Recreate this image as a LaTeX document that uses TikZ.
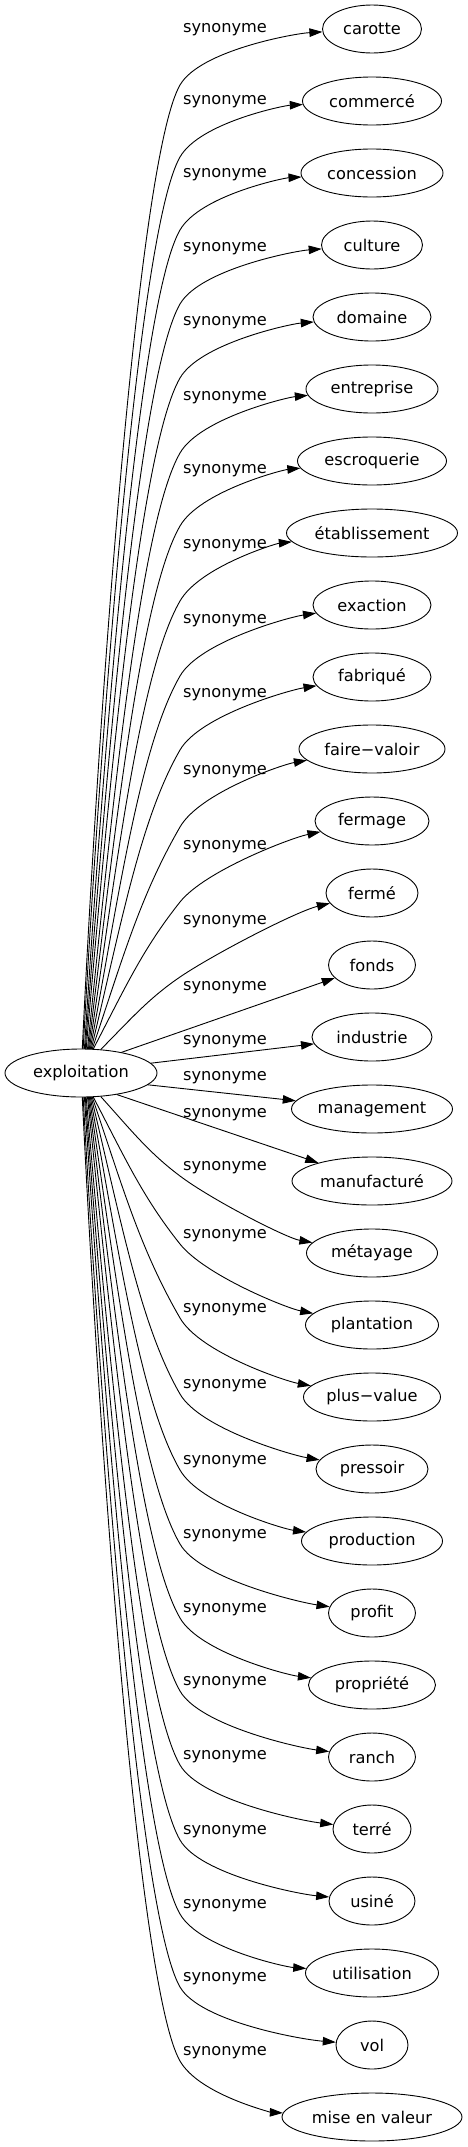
\documentclass[tikz,border=0pt]{standalone}
\usepackage{fontspec}
\setmainfont{DejaVu Sans}
\usetikzlibrary{shapes.geometric,arrows.meta,calc}
\begin{document}
\begin{tikzpicture}[x=1pt, y=1pt, line cap=round, line join=round, font=\fontsize{16.2}{19}\selectfont, >={Triangle[length=13pt,width=8.5pt]}]
\tikzset{word/.style={draw, ellipse, line width=0.9pt, inner sep=0pt, minimum height=48pt},
         rel/.style={inner sep=0pt},
         link/.style={->, line width=0.9pt}}
\useasboundingbox (0,0) rectangle (467,-2147);
\node[word, minimum width=152pt] (ex) at (81,-1073) {exploitation};
% synonyms and edge labels
\foreach \i/\wi/\ly/\tx in {1/99/30/carotte, 2/139/102/commercé, 3/142/175/concession, 4/101/249/culture, 5/118/323/domaine, 6/132/398/entreprise, 7/149/471/escroquerie, 8/171/546/établissement, 9/118/621/exaction, 10/118/695/fabriqué, 11/146/772/faire−valoir, 12/114/847/fermage, 13/92/922/fermé, 14/87/988/fonds, 15/120/1042/industrie, 16/161/1078/management, 17/160/1115/manufacturé, 18/131/1168/métayage, 19/133/1236/plantation, 20/137/1310/plus−value, 21/112/1386/pressoir, 22/141/1462/production, 23/87/1536/profit, 24/127/1610/propriété, 25/87/1683/ranch, 26/78/1757/terré, 27/86/1832/usiné, 28/133/1906/utilisation, 29/72/1979/vol, 30/180/2053/mise en valeur}{
  \node[word, minimum width=\wi pt] (syn\i) at (372,{-29-72*(\i-1)}) {\tx};
  \node[rel] (lab\i) at (225,-\ly) {synonyme};
}
% curved edges, up (1) and down (-1)
\foreach \i/\ly/\dx/\s in {1/30/1/1, 2/102/2/1, 3/175/3/1, 4/249/4/1, 5/323/5/1, 6/398/6/1, 7/471/7/1, 8/546/8/1, 9/621/9/1, 10/695/10/1, 11/772/11/1, 12/847/12/1, 13/922/19/1, 18/1168/19/-1, 19/1236/12/-1, 20/1310/11/-1, 21/1386/10/-1, 22/1462/9/-1, 23/1536/8/-1, 24/1610/7/-1, 25/1683/6/-1, 26/1757/5/-1, 27/1832/4/-1, 28/1906/3/-1, 29/1979/2/-1, 30/2053/1/-1}{
  \pgfmathsetmacro\hy{24*sqrt(1-(\dx/76)^2)}
  \pgfmathsetmacro\ang{\s*atan2(\hy,\dx)}
  \pgfmathsetmacro\ry{\ly+31.5+23.5*\s}
  \pgfmathsetmacro\ky{\ly+31.5-23.5*\s}
  \pgfmathsetmacro\ca{atan2(abs(\ry-1073+\s*\hy),99-\dx)}
  \pgfmathsetmacro\cl{veclen(99-\dx,\ry-1073+\s*\hy)}
  \pgfmathsetmacro\tr{min(60,\ca-8)}
  \pgfmathsetmacro\be{min(90,\ca+3)}
  \pgfmathsetmacro\da{0.4*\cl}
  \pgfmathsetmacro\dc{min(80,0.35*\cl)}
  \pgfmathsetmacro\cax{\da*cos(\be)}
  \pgfmathsetmacro\cay{\da*sin(\be)*\s}
  \pgfmathsetmacro\cbx{-\dc*cos(\tr)}
  \pgfmathsetmacro\cby{-\dc*sin(\tr)*\s}
  \pgfmathsetmacro\ccx{40*cos(\tr)}
  \pgfmathsetmacro\ccy{40*sin(\tr)*\s}
  \draw[link] (ex.\ang) .. controls +(\cax,\cay) and +(\cbx,\cby) .. (180,-\ry)
    .. controls +(\ccx,\ccy) and ($(267,-\ky)!0.5!(syn\i.west)$) .. (syn\i);
}
% nearly straight edges in the middle
\foreach \i/\ang in {14/27, 15/8, 16/-10, 17/-31}
  \draw[link] (ex.\ang) -- (syn\i);
\end{tikzpicture}
\end{document}
